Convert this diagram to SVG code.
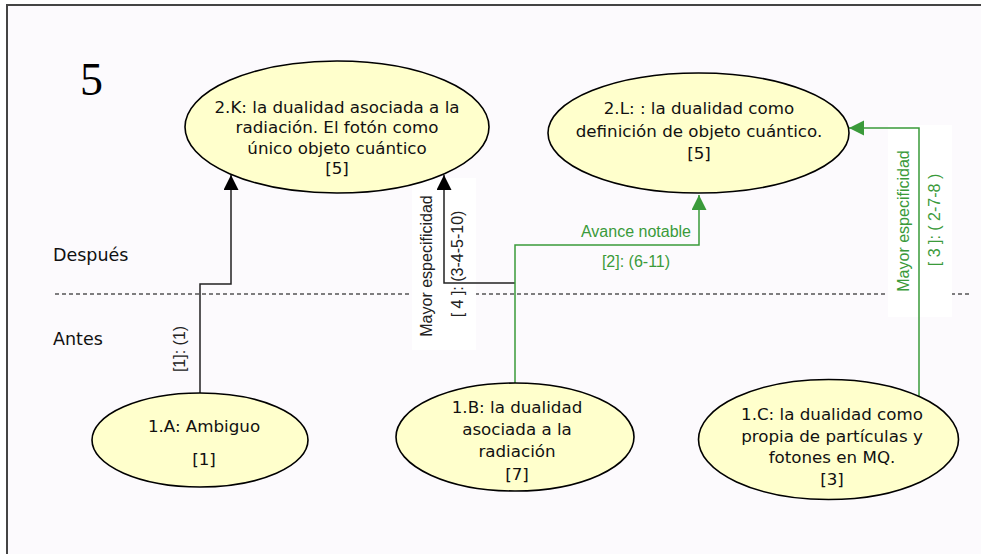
<svg xmlns="http://www.w3.org/2000/svg" width="981" height="554" viewBox="0 0 981 554">
<style>
.node ellipse{fill:#ffffcc;stroke:#000;stroke-width:1.6}
.nt{font-family:"DejaVu Sans",sans-serif;font-size:16.7px;fill:#111;text-anchor:middle}
.lbl{font-family:"Liberation Sans",Arial,sans-serif;font-size:16px;text-anchor:middle}
.blk{fill:#222}
.grn{fill:#3a9a3a}
.side{font-family:"DejaVu Sans",sans-serif;font-size:17.5px;fill:#111}
.cb{fill:none;stroke:#222;stroke-width:1.5}
.cg{fill:none;stroke:#3a9a3a;stroke-width:1.5}
</style>
<defs>
<marker id="ab" markerWidth="16" markerHeight="16" refX="15" refY="7.5" orient="auto" markerUnits="userSpaceOnUse"><path d="M0,0 L15,7.5 L0,15 z" fill="#000"/></marker>
<marker id="ag" markerWidth="16" markerHeight="16" refX="15" refY="7.5" orient="auto" markerUnits="userSpaceOnUse"><path d="M0,0 L15,7.5 L0,15 z" fill="#3a9a3a"/></marker>
</defs>
<rect x="0" y="0" width="981" height="554" fill="#ffffff"/>
<rect x="7" y="5" width="1000" height="600" fill="#fcfafd" stroke="#444" stroke-width="2"/>
<text x="80" y="95" font-family="Liberation Serif,serif" font-size="46" fill="#000">5</text>
<text class="side" x="53" y="261">Después</text>
<text class="side" x="53" y="345">Antes</text>
<line x1="55" y1="294" x2="970" y2="294" stroke="#000" stroke-width="1" stroke-dasharray="4 3"/>
<rect x="412" y="178" width="64" height="172" fill="#ffffff"/>
<rect x="888" y="125" width="64" height="192" fill="#ffffff"/>
<g id="connectors">
<path class="cb" d="M200,393 V284 H231 V175" marker-end="url(#ab)"/>
<path class="cb" d="M515,283 H444 V175" marker-end="url(#ab)"/>
<path class="cg" d="M515,383 V245 H699 V195" marker-end="url(#ag)"/>
<path class="cg" d="M919,397 V128 H849" marker-end="url(#ag)"/>
<text class="lbl blk" transform="translate(185,349) rotate(-90)">[1]: (1)</text>
<text class="lbl blk" transform="translate(432,266) rotate(-90)">Mayor especificidad</text>
<text class="lbl blk" transform="translate(463,264) rotate(-90)">[ 4 ]: (3-4-5-10)</text>
<text class="lbl grn" x="636" y="237">Avance notable</text>
<text class="lbl grn" x="636" y="267">[2]: (6-11)</text>
<text class="lbl grn" transform="translate(909,221) rotate(-90)">Mayor especificidad</text>
<text class="lbl grn" transform="translate(940,220) rotate(-90)">[ 3 ]: ( 2-7-8 )</text>
</g>
<g id="n2K" class="node">
<ellipse cx="337" cy="127" rx="152" ry="66"/>
<text class="nt" x="337" y="113">2.K: la dualidad asociada a la</text>
<text class="nt" x="337" y="133">radiación. El fotón como</text>
<text class="nt" x="337" y="154">único objeto cuántico</text>
<text class="nt" x="337" y="174">[5]</text>
</g>
<g id="n2L" class="node">
<ellipse cx="698.5" cy="133" rx="150.5" ry="60"/>
<text class="nt" x="699" y="114">2.L: : la dualidad como</text>
<text class="nt" x="699" y="137">definición de objeto cuántico.</text>
<text class="nt" x="699" y="159">[5]</text>
</g>
<g id="n1A" class="node">
<ellipse cx="200" cy="440" rx="108" ry="47"/>
<text class="nt" x="204" y="432">1.A: Ambiguo</text>
<text class="nt" x="204" y="465">[1]</text>
</g>
<g id="n1B" class="node">
<ellipse cx="515" cy="437" rx="119" ry="54"/>
<text class="nt" x="517" y="413">1.B: la dualidad</text>
<text class="nt" x="517" y="435">asociada a la</text>
<text class="nt" x="517" y="457">radiación</text>
<text class="nt" x="517" y="480">[7]</text>
</g>
<g id="n1C" class="node">
<ellipse cx="828.5" cy="439.5" rx="130" ry="60"/>
<text class="nt" x="832" y="420">1.C: la dualidad como</text>
<text class="nt" x="832" y="442">propia de partículas y</text>
<text class="nt" x="832" y="463">fotones en MQ.</text>
<text class="nt" x="832" y="485">[3]</text>
</g>
</svg>
